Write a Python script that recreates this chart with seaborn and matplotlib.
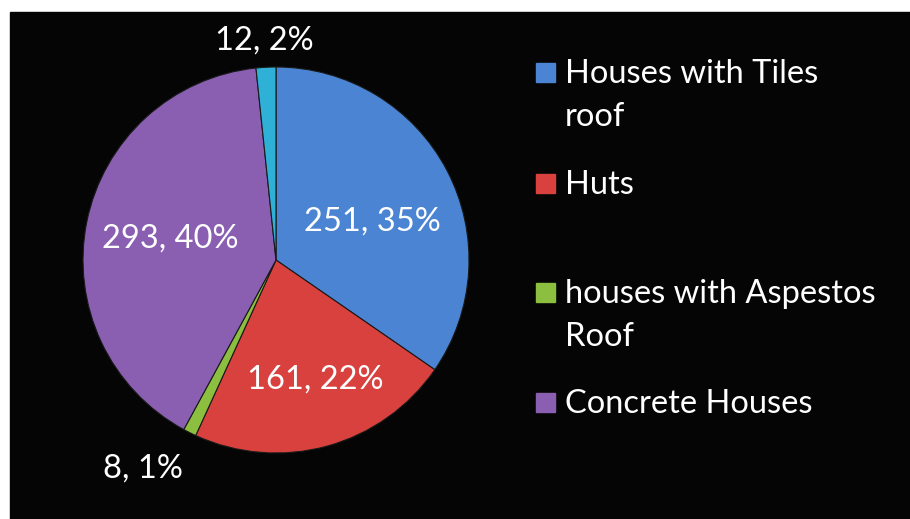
import numpy as np
import seaborn as sns
import matplotlib.pyplot as plt
from matplotlib.patches import Rectangle

sns.set_theme(style="white")
plt.rcParams["font.family"] = ["Lato", "DejaVu Sans"]

# slice data, clockwise from 12 o'clock
categories = ["Houses with Tiles\nroof", "Huts", "houses with Aspestos\nRoof",
              "Concrete Houses", "Other"]
counts = [251, 161, 8, 293, 12]
pct_labels = ["35%", "22%", "1%", "40%", "2%"]
colors = ["#4a84d2", "#d8413d", "#8cbf3f", "#8a5fb2", "#2fb0d6"]
legend_items = 4  # the small cyan slice has no legend entry

W, H = 910, 519
fig = plt.figure(figsize=(W / 100, H / 100), dpi=100, facecolor="white")
# black panel
fig.patches.append(Rectangle((10 / W, 0), 900 / W, (H - 12) / H,
                             transform=fig.transFigure, color="#050505", zorder=-10))

cx, cy, r = 276, 260, 193
ax = fig.add_axes([(cx - r) / W, (H - cy - r) / H, 2 * r / W, 2 * r / H])
ax.set_zorder(1)
ax.axis("off")

wedges, _ = ax.pie(counts, colors=colors, startangle=90, counterclock=False,
                   radius=1, wedgeprops=dict(edgecolor="#1a1a1a", linewidth=0.8))
ax.set_xlim(-1, 1)
ax.set_ylim(-1, 1)

# data label placement (distance from centre, angle nudge)
dist = [0.54, 0.65, 1.28, 0.56, 1.14]
nudge = [-6, 3, -6, 0, 0]
for w, n, p, d, a in zip(wedges, counts, pct_labels, dist, nudge):
    theta = np.deg2rad((w.theta1 + w.theta2) / 2 + a)
    ax.text(d * np.cos(theta), d * np.sin(theta), f"{n}, {p}",
            ha="center", va="center", color="white", fontsize=23.5, clip_on=False)

# legend drawn by hand to mimic the spacing of the original
leg_y = [72, 183, 292, 402]
line_gap = 43
for lab, col, y in zip(categories[:legend_items], colors, leg_y):
    fig.patches.append(Rectangle((536 / W, (H - y - 9.5) / H), 19 / W, 19 / H,
                                 transform=fig.transFigure, color=col, zorder=3))
    for k, line in enumerate(lab.split("\n")):
        fig.text(565 / W, (H - y - 11 - k * line_gap) / H, line, color="white",
                 fontsize=23.5, ha="left", va="baseline")

fig.savefig("out.png", dpi=100, facecolor="white")
